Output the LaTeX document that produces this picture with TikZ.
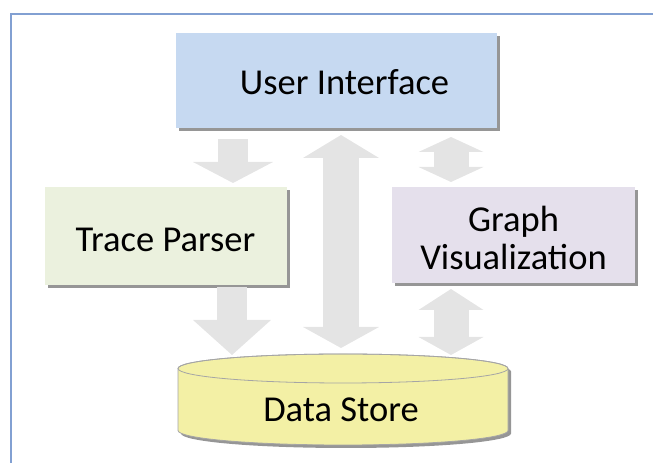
\documentclass[tikz,border=0pt]{standalone}
\usepackage{fontspec}
\setmainfont{Carlito}
\usetikzlibrary{arrows.meta,shadows}
\definecolor{uiblue}{RGB}{198,217,241}
\definecolor{tpgreen}{RGB}{235,241,222}
\definecolor{gvpurple}{RGB}{229,224,236}
\definecolor{dsyellow}{RGB}{243,240,165}
\definecolor{arrowgray}{RGB}{228,228,228}
\definecolor{framebl}{RGB}{130,160,210}
\definecolor{shadowgray}{RGB}{150,150,150}
\definecolor{edgegray}{RGB}{165,165,165}
\begin{document}
\begin{tikzpicture}[x=1bp,y=1bp,
  box/.style={rectangle, inner sep=0pt,
    general shadow={fill=shadowgray, shadow xshift=3bp, shadow yshift=-3bp}},
  label/.style={inner sep=0pt, anchor=base, align=center,
    font=\fontsize{36.5bp}{38bp}\selectfont},
  barrow/.style={draw=arrowgray, line cap=butt}]
\useasboundingbox (0,0) rectangle (653,463);
% frame
\draw[framebl, line width=1.6bp] (11,0) -- (11,449) -- (653,449);

% boxes
\node[box, fill=uiblue, minimum width=321bp, minimum height=95bp] (ui) at (336.5,382.5) {};
\node[box, fill=tpgreen, minimum width=242bp, minimum height=98bp] (tp) at (166,227) {};
\node[box, fill=gvpurple, minimum width=243bp, minimum height=96bp] (gv) at (513.5,228) {};
\node[label] (uit) at (344.5,368) {User Interface};
\node[label] (tpt) at (165.5,211) {Trace Parser};
\node[label] (gvt) at (513.5,193) {Graph\\Visualization};

% arrow end points
\coordinate (a1s) at (233,324);
\coordinate (a1e) at (233,280);
\coordinate (a2s) at (341,328);
\coordinate (a2e) at (341,115);
\coordinate (a3s) at (451,326);
\coordinate (a3e) at (451,281);
\coordinate (a4s) at (232,176);
\coordinate (a4e) at (232,108);
\coordinate (a5s) at (451,174);
\coordinate (a5e) at (451,108);

\draw[barrow, line width=30bp, -{Triangle[width=80bp,length=21bp,line width=0pt]}] (a1s) -- (a1e);
\draw[barrow, line width=36bp, {Triangle[width=76bp,length=23bp,line width=0pt]}-{Triangle[width=76bp,length=21bp,line width=0pt]}] (a2s) -- (a2e);
\draw[barrow, line width=35bp, {Triangle[width=65bp,length=15bp,line width=0pt]}-{Triangle[width=65bp,length=15bp,line width=0pt]}] (a3s) -- (a3e);
\draw[barrow, line width=30bp, -{Triangle[width=78bp,length=35bp,line width=0pt]}] (a4s) -- (a4e);
\draw[barrow, line width=35bp, {Triangle[width=65bp,length=21bp,line width=0pt]}-{Triangle[width=65bp,length=18bp,line width=0pt]}] (a5s) -- (a5e);

% data store cylinder
\fill[shadowgray] (181,91.5) -- (181,29.5) arc[start angle=180, end angle=360, x radius=165, y radius=14.5] -- (511,91.5) arc[start angle=0, end angle=180, x radius=165, y radius=14.5] -- cycle;
\filldraw[fill=dsyellow, draw=edgegray, line width=0.8bp] (178,94.5) -- (178,32.5) arc[start angle=180, end angle=360, x radius=165, y radius=14.5] -- (508,94.5) arc[start angle=0, end angle=180, x radius=165, y radius=14.5] -- cycle;
\draw[edgegray, line width=0.8bp] (343,94.5) ellipse [x radius=165, y radius=14.5];
\node[label] (ds) at (341,41) {Data Store};
\end{tikzpicture}
\end{document}
